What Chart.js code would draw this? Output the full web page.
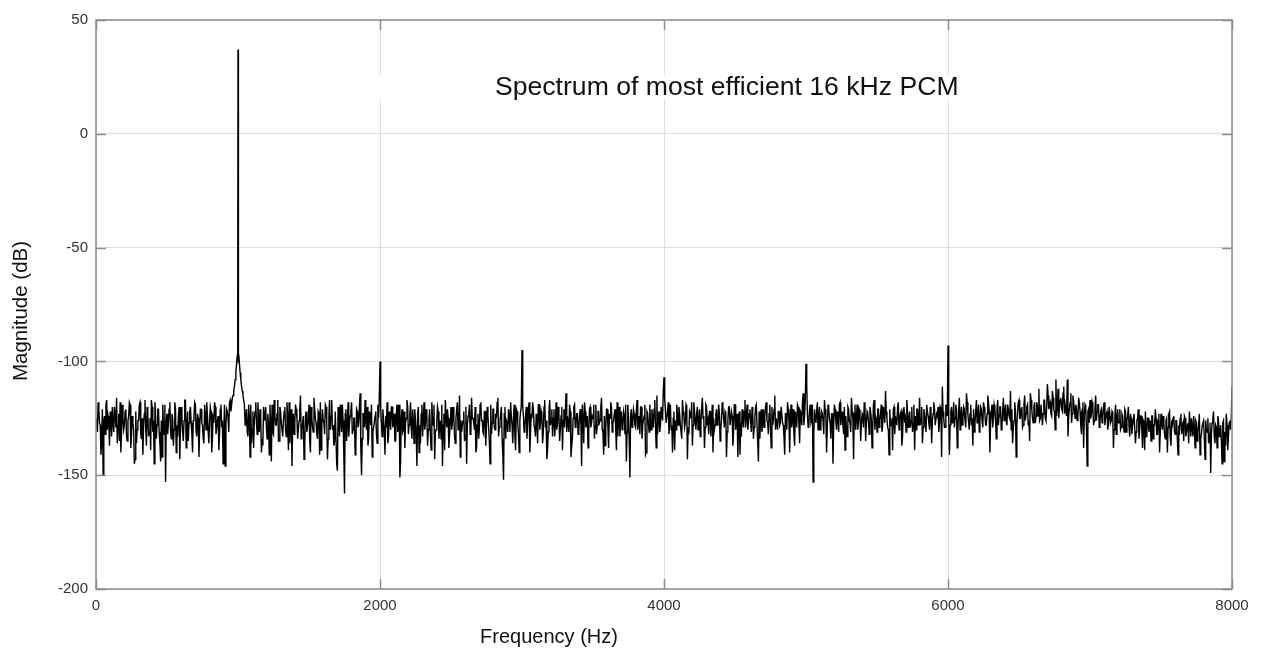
<!DOCTYPE html>
<html>
<head>
<meta charset="utf-8">
<script src="https://cdn.jsdelivr.net/npm/chart.js@4.4.1/dist/chart.umd.min.js"></script>
<style>
  html, body { margin: 0; padding: 0; background: #ffffff; }
  canvas { display: block; }
</style>
</head>
<body>
<canvas id="c" width="1268" height="649"></canvas>
<script>
// ---- data: magnitude in dB. "even" bins at k*1000 + 10*i Hz, "odd" bins 5 Hz later ----
const binHz = 5;
const even0k = [
-125,-131,-121,-128,-134,-150,-124,-119,-130,-126,
-122,-133,-127,-120,-129,-136,-123,-118,-131,-125,
-128,-121,-135,-124,-119,-132,-127,-145,-122,-130,
-126,-118,-134,-141,-123,-129,-120,-133,-125,-117,
-131,-145,-124,-128,-121,-136,-126,-119,-132,-153,
-123,-127,-118,-134,-125,-130,-121,-128,-124,-143,
-120,-131,-126,-117,-129,-135,-122,-127,-140,-124,
-119,-133,-125,-130,-121,-128,-136,-123,-118,-131,
-126,-122,-134,-127,-120,-129,-124,-132,-119,-126,
-130,-146,-121,-125,-118,-122,-116,-113,-108,-101];
const odd0k = [
-129,-118,-127,-141,-121,-126,-132,-117,-124,-137,
-127,-120,-131,-124,-116,-128,-135,-140,-119,-130,
-122,-133,-126,-118,-138,-124,-130,-143,-136,-126,
-119,-132,-125,-129,-117,-137,-123,-131,-139,-120,
-126,-118,-134,-121,-131,-144,-142,-128,-119,-127,
-132,-121,-130,-123,-137,-118,-140,-133,-120,-129,
-125,-135,-117,-138,-122,-127,-120,-132,-126,-118,
-131,-123,-142,-121,-127,-134,-119,-130,-124,-136,
-120,-140,-123,-118,-132,-126,-139,-121,-129,-145,
-119,-128,-122,-131,-117,-119,-115,-111,-105,-99];
const even1k = [
-97,-101,-108,-113,-117,-128,-121,-133,-124,-119,
-130,-138,-122,-127,-118,-131,-125,-134,-120,-126,
-129,-123,-141,-127,-119,-132,-124,-128,-117,-135,
-122,-130,-126,-120,-133,-125,-118,-129,-146,-123,
-127,-121,-134,-126,-115,-130,-124,-137,-122,-128,
-119,-140,-125,-131,-121,-127,-134,-123,-118,-129,
-126,-132,-120,-143,-124,-130,-117,-128,-135,-122,
-148,-125,-119,-131,-126,-158,-121,-128,-133,-124,
-118,-130,-125,-137,-122,-127,-114,-150,-123,-129,
-126,-120,-134,-124,-119,-131,-127,-122,-136,-125];
const odd1k = [
-99,-105,-111,-115,-119,-124,-131,-119,-142,-136,
-122,-126,-118,-132,-125,-121,-140,-137,-124,-120,
-134,-127,-119,-144,-131,-117,-128,-123,-135,-120,
-127,-133,-122,-130,-118,-139,-136,-121,-129,-132,
-119,-125,-130,-121,-134,-127,-143,-124,-131,-126,
-135,-120,-129,-116,-125,-132,-122,-141,-139,-121,
-127,-119,-126,-134,-117,-124,-130,-137,-122,-145,
-120,-133,-126,-119,-140,-123,-135,-118,-127,-122,
-132,-125,-141,-121,-129,-120,-138,-134,-123,-117,
-130,-137,-122,-128,-142,-129,-124,-132,-119,-116];
const even2k = [
-100,-127,-121,-130,-124,-118,-133,-126,-120,-129,
-123,-135,-119,-128,-151,-125,-131,-122,-127,-117,
-132,-124,-129,-121,-136,-126,-146,-120,-128,-123,
-133,-118,-127,-124,-130,-121,-139,-125,-119,-131,
-126,-122,-128,-134,-146,-123,-117,-129,-125,-132,
-120,-127,-124,-136,-121,-130,-115,-126,-128,-122,
-133,-145,-124,-119,-131,-125,-127,-120,-138,-123,
-129,-118,-126,-132,-122,-128,-124,-135,-119,-127,
-121,-130,-125,-116,-129,-123,-134,-152,-120,-126,
-131,-124,-118,-128,-125,-133,-121,-127,-140,-122];
const odd2k = [
-121,-133,-126,-141,-129,-136,-122,-130,-120,-127,
-135,-123,-131,-119,-144,-121,-130,-138,-125,-120,
-128,-118,-134,-126,-121,-131,-123,-140,-136,-119,
-126,-130,-121,-137,-125,-132,-118,-128,-143,-130,
-120,-134,-126,-119,-128,-139,-123,-121,-138,-126,
-130,-120,-133,-125,-118,-129,-142,-131,-126,-135,
-120,-128,-123,-132,-116,-125,-130,-140,-128,-134,
-119,-126,-131,-122,-137,-120,-129,-145,-132,-121,
-129,-123,-118,-133,-126,-120,-141,-123,-134,-127,
-121,-131,-124,-136,-119,-139,-122,-132,-126,-120];
const even3k = [
-95,-124,-129,-120,-127,-118,-132,-125,-121,-130,
-123,-136,-119,-127,-124,-131,-117,-126,-139,-122,
-128,-121,-125,-133,-118,-127,-123,-130,-120,-126,
-129,-114,-124,-131,-122,-137,-125,-119,-128,-123,
-130,-121,-146,-126,-118,-129,-124,-132,-120,-127,
-125,-134,-119,-128,-122,-126,-116,-131,-124,-129,
-121,-138,-125,-120,-127,-123,-130,-118,-126,-133,
-122,-128,-124,-119,-131,-125,-151,-121,-127,-123,
-129,-117,-126,-132,-120,-128,-124,-141,-122,-127,
-119,-130,-125,-121,-128,-115,-124,-131,-120,-126];
const odd3k = [
-120,-131,-124,-134,-121,-140,-123,-118,-128,-133,
-126,-119,-130,-122,-136,-120,-129,-143,-131,-117,
-126,-133,-121,-128,-130,-120,-135,-124,-139,-121,
-123,-131,-127,-119,-142,-134,-120,-129,-123,-132,
-124,-128,-119,-136,-122,-126,-138,-121,-129,-124,
-119,-128,-132,-122,-127,-120,-130,-141,-137,-121,
-129,-123,-118,-131,-126,-121,-139,-133,-120,-125,
-130,-122,-132,-144,-119,-135,-123,-129,-121,-128,
-122,-130,-124,-120,-134,-126,-119,-140,-123,-131,
-126,-121,-129,-117,-138,-132,-122,-128,-120,-113];
const even4k = [
-107,-121,-127,-118,-125,-130,-140,-122,-126,-119,
-128,-123,-131,-117,-124,-127,-120,-129,-122,-125,
-137,-118,-126,-123,-130,-121,-127,-116,-124,-129,
-120,-126,-122,-133,-119,-125,-128,-121,-127,-123,
-130,-118,-125,-122,-142,-126,-120,-128,-124,-131,
-119,-125,-142,-122,-127,-121,-129,-117,-124,-130,
-123,-126,-120,-134,-125,-119,-128,-122,-126,-131,
-121,-124,-118,-127,-123,-129,-120,-126,-115,-125,
-130,-122,-127,-120,-128,-141,-123,-118,-126,-124,
-129,-121,-137,-125,-119,-127,-122,-128,-114,-124];
const odd4k = [
-117,-127,-122,-132,-119,-128,-125,-139,-130,-123,
-120,-128,-134,-122,-129,-119,-143,-132,-123,-118,
-128,-122,-130,-120,-127,-133,-121,-125,-138,-119,
-128,-132,-122,-127,-140,-130,-123,-128,-119,-135,
-125,-121,-129,-123,-131,-120,-128,-122,-137,-119,
-130,-123,-128,-141,-133,-125,-122,-129,-119,-127,
-121,-131,-123,-129,-120,-128,-144,-134,-121,-127,
-129,-120,-126,-132,-119,-138,-128,-121,-130,-125,
-122,-128,-120,-127,-133,-123,-130,-121,-140,-119,
-125,-132,-122,-129,-120,-136,-123,-118,-128,-117];
const even5k = [
-101,-123,-128,-119,-126,-153,-121,-127,-118,-124,
-130,-122,-126,-117,-125,-129,-121,-127,-123,-145,
-119,-126,-122,-131,-118,-125,-128,-120,-124,-133,
-121,-127,-116,-125,-123,-130,-119,-126,-122,-128,
-124,-118,-135,-122,-127,-120,-125,-129,-117,-124,
-131,-121,-126,-119,-128,-123,-113,-125,-130,-121,
-127,-139,-120,-124,-128,-118,-126,-122,-133,-120,
-125,-117,-129,-122,-126,-131,-119,-124,-121,-128,
-116,-125,-136,-121,-127,-119,-124,-130,-122,-126,
-118,-128,-123,-120,-127,-121,-111,-125,-129,-122];
const odd5k = [
-110,-129,-121,-127,-119,-132,-125,-122,-130,-120,
-127,-123,-132,-121,-140,-119,-125,-134,-123,-128,
-121,-130,-125,-119,-128,-122,-132,-139,-129,-120,
-126,-131,-122,-143,-119,-125,-130,-121,-135,-123,
-129,-120,-127,-123,-132,-122,-138,-119,-130,-125,
-121,-129,-123,-131,-120,-127,-122,-129,-141,-128,
-125,-121,-132,-126,-120,-130,-123,-137,-121,-127,
-131,-122,-125,-129,-120,-127,-139,-130,-121,-125,
-128,-120,-129,-123,-131,-122,-127,-120,-136,-123,
-121,-128,-124,-131,-120,-142,-122,-129,-119,-124];
const even6k = [
-93,-141,-122,-127,-118,-125,-121,-129,-116,-124,
-128,-120,-126,-114,-123,-130,-119,-125,-121,-127,
-117,-124,-131,-120,-126,-118,-123,-128,-115,-122,
-127,-119,-125,-121,-134,-117,-124,-120,-128,-116,
-123,-126,-119,-124,-113,-121,-129,-118,-142,-122,
-117,-125,-120,-128,-115,-123,-119,-126,-114,-121,
-127,-118,-124,-120,-112,-125,-119,-123,-117,-126,
-110,-121,-118,-124,-116,-122,-108,-120,-125,-117,
-121,-114,-123,-119,-108,-124,-118,-127,-115,-121,
-119,-126,-116,-122,-132,-118,-124,-120,-146,-121];
const odd6k = [
-124,-128,-120,-126,-129,-119,-138,-122,-130,-120,
-126,-121,-129,-118,-127,-123,-128,-137,-131,-122,
-127,-119,-126,-121,-129,-120,-128,-123,-118,-140,
-122,-129,-119,-126,-121,-128,-120,-130,-122,-126,
-119,-128,-121,-125,-130,-136,-126,-122,-128,-118,
-125,-121,-129,-119,-126,-120,-128,-135,-117,-125,
-120,-127,-118,-124,-126,-119,-128,-117,-125,-120,
-115,-119,-123,-113,-121,-130,-124,-112,-120,-116,
-122,-111,-119,-124,-133,-121,-114,-123,-118,-125,
-121,-125,-118,-128,-121,-138,-119,-129,-122,-127];
const even7k = [
-117,-123,-120,-126,-115,-122,-119,-127,-121,-124,
-118,-125,-122,-128,-120,-126,-123,-130,-119,-125,
-127,-121,-129,-124,-131,-122,-126,-120,-133,-125,
-128,-123,-136,-126,-121,-130,-124,-138,-127,-122,
-131,-125,-129,-135,-124,-128,-121,-132,-126,-140,
-123,-130,-127,-134,-125,-129,-122,-137,-128,-124,
-132,-126,-141,-130,-123,-128,-135,-125,-131,-127,
-122,-133,-129,-124,-138,-127,-131,-123,-134,-128,
-126,-143,-130,-125,-132,-149,-127,-122,-136,-129,
-124,-133,-128,-145,-126,-131,-123,-139,-127,-130];
const odd7k = [
-125,-118,-128,-121,-126,-119,-129,-122,-127,-120,
-128,-123,-130,-120,-127,-122,-138,-124,-132,-121,
-127,-130,-123,-128,-121,-131,-124,-129,-123,-132,
-126,-123,-131,-125,-134,-124,-130,-126,-139,-133,
-125,-131,-126,-124,-134,-128,-125,-132,-123,-131,
-127,-124,-132,-126,-140,-123,-133,-127,-125,-131,
-126,-134,-128,-125,-132,-127,-124,-133,-128,-136,
-127,-125,-133,-129,-126,-135,-128,-141,-132,-127,
-134,-126,-131,-136,-127,-132,-125,-133,-128,-138,
-126,-132,-135,-127,-144,-137,-128,-133,-126,-125];
const edge8k = [-111];
// narrow 1 kHz tone detail (Hz, dB)
const toneHz = [990, 996, 998, 1000, 1002, 1004, 1010];
const toneDb = [-101, -97, -84, 37, -84, -97, -101];

const xTicks = [0, 2000, 4000, 6000, 8000];
const yTicks = [-200, -150, -100, -50, 0, 50];
const titleText = 'Spectrum of most efficient 16 kHz PCM';
const xTitle = 'Frequency (Hz)';
const yTitle = 'Magnitude (dB)';

const evenBins = [even0k, even1k, even2k, even3k, even4k, even5k, even6k, even7k];
const oddBins = [odd0k, odd1k, odd2k, odd3k, odd4k, odd5k, odd6k, odd7k];
const magnitudeDb = [];
evenBins.forEach((seg, k) => {
  seg.forEach((v, i) => { magnitudeDb.push(v, oddBins[k][i]); });
});
edge8k.forEach(v => magnitudeDb.push(v));
const spectrum = magnitudeDb.map((v, i) => ({ x: i * binHz, y: v }));
const tone = toneHz.map((f, i) => ({ x: f, y: toneDb[i] }));

const FONT = '"Liberation Sans", Arial, Helvetica, sans-serif';

const framePlugin = {
  id: 'frame',
  afterDatasetsDraw(chart) {
    const { ctx, chartArea: a, scales: { x, y } } = chart;
    ctx.save();
    // in-plot title with white backing
    ctx.fillStyle = '#ffffff';
    ctx.fillRect(376, 75, 592, 24);
    ctx.fillStyle = '#111111';
    ctx.font = '26.6px ' + FONT;
    ctx.textAlign = 'left';
    ctx.textBaseline = 'alphabetic';
    ctx.fillText(titleText, 495, 95);
    // axes box
    ctx.strokeStyle = '#8c8c8c';
    ctx.lineWidth = 1.5;
    ctx.strokeRect(a.left, a.top, a.right - a.left, a.bottom - a.top);
    // inward ticks
    ctx.beginPath();
    xTicks.forEach(v => {
      const px = Math.round(x.getPixelForValue(v)) + 0.5;
      ctx.moveTo(px, a.bottom); ctx.lineTo(px, a.bottom - 10);
      ctx.moveTo(px, a.top); ctx.lineTo(px, a.top + 10);
    });
    yTicks.forEach(v => {
      const py = Math.round(y.getPixelForValue(v)) + 0.5;
      ctx.moveTo(a.left, py); ctx.lineTo(a.left + 10, py);
      ctx.moveTo(a.right, py); ctx.lineTo(a.right - 10, py);
    });
    ctx.stroke();
    // axis titles
    ctx.fillStyle = '#111111';
    ctx.font = '20px ' + FONT;
    ctx.textAlign = 'center';
    ctx.textBaseline = 'middle';
    ctx.fillText(xTitle, 549, 637);
    ctx.translate(21, 311);
    ctx.rotate(-Math.PI / 2);
    ctx.font = '20.5px ' + FONT;
    ctx.fillText(yTitle, 0, 0);
    ctx.restore();
  }
};

new Chart(document.getElementById('c'), {
  type: 'line',
  data: {
    datasets: [
      { data: spectrum, borderColor: '#000000', borderWidth: 1.4, pointRadius: 0, tension: 0, fill: false, borderJoinStyle: 'miter' },
      { data: tone, borderColor: '#000000', borderWidth: 1.4, pointRadius: 0, tension: 0, fill: false }
    ]
  },
  options: {
    responsive: false,
    animation: false,
    devicePixelRatio: 1,
    layout: { padding: { top: 20, right: 36, left: 0, bottom: 0 } },
    plugins: { legend: { display: false }, tooltip: { enabled: false }, title: { display: false } },
    scales: {
      x: {
        type: 'linear', min: 0, max: 8000,
        afterBuildTicks: s => { s.ticks = xTicks.map(v => ({ value: v })); },
        ticks: { color: '#333333', font: { size: 15, family: FONT }, padding: 8, maxRotation: 0, callback: v => String(v) },
        grid: { color: '#dedede', lineWidth: 1, drawTicks: false },
        border: { display: false },
        afterFit: s => { s.height = 60; }
      },
      y: {
        type: 'linear', min: -200, max: 50,
        afterBuildTicks: s => { s.ticks = yTicks.map(v => ({ value: v })); },
        ticks: { color: '#333333', font: { size: 15, family: FONT }, padding: 8, callback: v => String(v) },
        grid: { color: '#dedede', lineWidth: 1, drawTicks: false },
        border: { display: false },
        afterFit: s => { s.width = 96; }
      }
    }
  },
  plugins: [framePlugin]
});
</script>
</body>
</html>
